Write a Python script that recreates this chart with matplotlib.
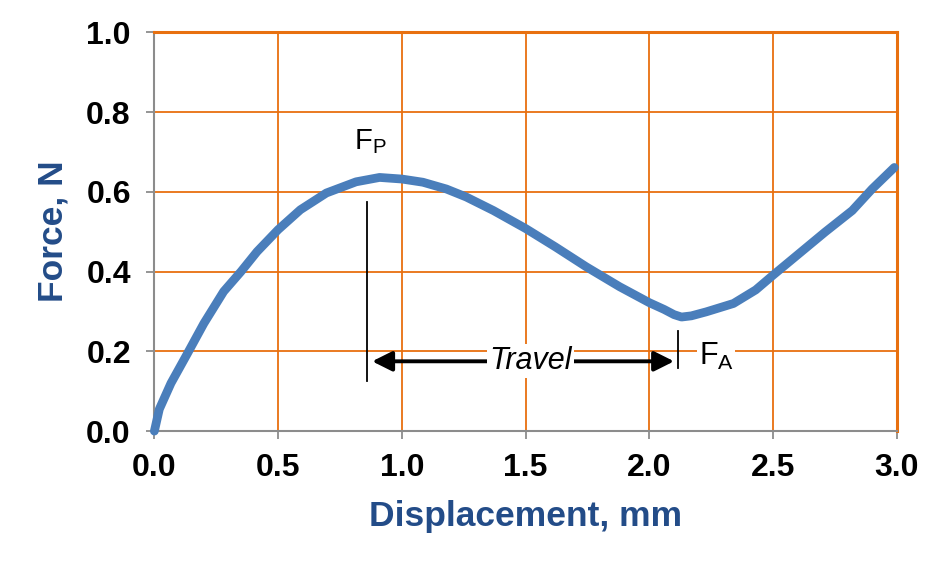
import matplotlib
matplotlib.use("Agg")
import matplotlib.pyplot as plt

# Data
disp = [0.0, 0.02, 0.067, 0.134, 0.2, 0.24, 0.28, 0.35, 0.415, 0.5, 0.59, 0.695, 0.815, 0.91,
        1.0, 1.085, 1.18, 1.26, 1.37, 1.5, 1.62, 1.745, 1.88, 2.0, 2.06, 2.1, 2.13, 2.17,
        2.23, 2.34, 2.43, 2.5, 2.605, 2.71, 2.82, 2.9, 2.99]
force = [0.0, 0.055, 0.12, 0.195, 0.27, 0.31, 0.35, 0.40, 0.45, 0.505, 0.555, 0.597, 0.625, 0.636,
         0.632, 0.624, 0.607, 0.587, 0.553, 0.508, 0.462, 0.412, 0.362, 0.322, 0.305, 0.292, 0.286, 0.289,
         0.299, 0.32, 0.354, 0.391, 0.445, 0.499, 0.553, 0.607, 0.661]
x_ticks = [0.0, 0.5, 1.0, 1.5, 2.0, 2.5, 3.0]
y_ticks = [0.0, 0.2, 0.4, 0.6, 0.8, 1.0]
x_label = "Displacement, mm"
y_label = "Force, N"

plt.rcParams['font.family'] = ['Liberation Sans', 'DejaVu Sans']
plt.rcParams['mathtext.fontset'] = 'custom'
plt.rcParams['mathtext.rm'] = 'Liberation Sans'
plt.rcParams['mathtext.it'] = 'Liberation Sans:italic'

ORANGE = '#E8700F'
GREY = '#8C8C8C'
BLUE = '#4A7EBB'
LABEL = '#234C88'

fig = plt.figure(figsize=(9.5, 5.71), dpi=100)
ax = fig.add_axes([0.1625, 0.245, 0.7815, 0.6985])

ax.set_xlim(0, 3.0)
ax.set_ylim(0, 1.0)
ax.set_xticks(x_ticks)
ax.set_yticks(y_ticks)
ax.set_xticklabels([f"{v:.1f}" for v in x_ticks])
ax.set_yticklabels([f"{v:.1f}" for v in y_ticks])
ax.grid(True, color=ORANGE, linewidth=1.3)
ax.set_axisbelow(True)

for s in ['top', 'right']:
    ax.spines[s].set_color(ORANGE)
    ax.spines[s].set_linewidth(2.2)
for s in ['left', 'bottom']:
    ax.spines[s].set_color(GREY)
    ax.spines[s].set_linewidth(1.5)

ax.tick_params(axis='both', direction='out', length=6, width=1.3, color=GREY,
               labelsize=23)
ax.tick_params(axis='x', pad=10)
ax.tick_params(axis='y', pad=11)
for lab in ax.get_xticklabels() + ax.get_yticklabels():
    lab.set_fontweight('bold')

ax.plot(disp, force, color=BLUE, linewidth=6.3, solid_capstyle='round',
        solid_joinstyle='round', zorder=3, clip_on=False)

ax.set_xlabel(x_label, fontsize=25.5, fontweight='bold', color=LABEL, labelpad=12)
ax.set_ylabel(y_label, fontsize=25.5, fontweight='bold', color=LABEL, labelpad=12)

# Annotations
ax.plot([0.86, 0.86], [0.125, 0.574], color='black', linewidth=1.3, zorder=4)
ax.plot([2.115, 2.115], [0.158, 0.25], color='black', linewidth=1.3, zorder=4)
ax.annotate('', xy=(0.88, 0.175), xytext=(2.10, 0.175),
            arrowprops=dict(arrowstyle='<|-|>', color='black', lw=2.8,
                            mutation_scale=30, shrinkA=0, shrinkB=0), zorder=4)
ax.text(1.52, 0.175, 'Travel', fontsize=22, style='italic', ha='center', va='center',
        bbox=dict(facecolor='white', edgecolor='none', pad=1.5), zorder=5)
ax.text(0.805, 0.707, r'$\mathrm{F_P}$', fontsize=21, ha='left', va='baseline', zorder=5)
ax.text(2.20, 0.166, r'$\mathrm{F_A}$', fontsize=22, ha='left', va='baseline', zorder=5,
        bbox=dict(facecolor='white', edgecolor='none', pad=1.0))

fig.savefig('out.png', dpi=100)
